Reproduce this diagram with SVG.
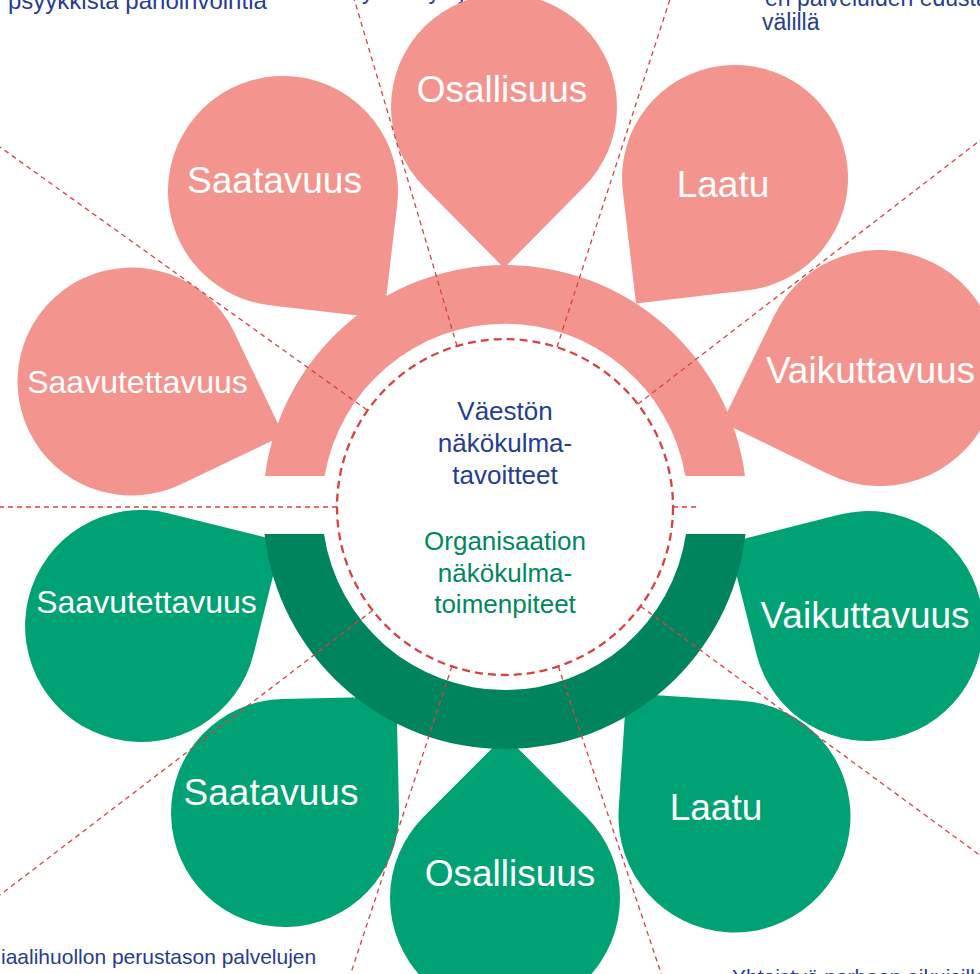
<svg xmlns="http://www.w3.org/2000/svg" width="980" height="974" viewBox="0 0 980 974">
<style>
.pink{fill:#F3958E}
.green{fill:#00A274}
.band-p{fill:#F3958E}
.band-g{fill:#00845E}
.lbl{font-family:"Liberation Sans",Arial,sans-serif;fill:#FFFFFF;text-anchor:middle}
.ctr{font-family:"Liberation Sans",Arial,sans-serif;font-size:26px;text-anchor:middle}
.note{font-family:"Liberation Sans",Arial,sans-serif;fill:#283C8F}
.ray{stroke:#D8413F;stroke-width:1.3;stroke-dasharray:5 4;fill:none}
</style>
<rect width="980" height="974" fill="#FFFFFF"/>

<g id="notes">
<text class="note" x="8" y="9" font-size="24">psyykkistä pahoinvointia</text>
<text class="note" x="362" y="-1" font-size="23">yhteistyö järjestöjen</text>
<text class="note" x="765" y="6" font-size="23">eri palveluiden edustajien</text>
<text class="note" x="762" y="30" font-size="23">välillä</text>
<text class="note" x="1" y="964" font-size="21">iaalihuollon perustason palvelujen</text>
<text class="note" x="732" y="984" font-size="21">Yhteistyö perheen aikuisille</text>
</g>

<g id="pink-saavutettavuus">
<path class="pink" d="M283.5 435.3 L234.4 332.4 A114 114 0 1 0 180.6 484.4 Z"/>
<text class="lbl" x="137.5" y="393" font-size="32">Saavutettavuus</text>
</g>
<g id="pink-saatavuus">
<path class="pink" d="M383.8 318.6 L397.2 204.4 A115 115 0 1 0 269.6 305.2 Z"/>
<text class="lbl" x="274.5" y="193" font-size="37">Saatavuus</text>
</g>
<g id="pink-osallisuus">
<path class="pink" d="M504 268 L583.9 186.9 A113 113 0 1 0 424.1 186.9 Z"/>
<text class="lbl" x="502" y="102" font-size="37">Osallisuus</text>
</g>
<g id="pink-laatu">
<path class="pink" d="M636 303.4 L748.2 290.2 A113 113 0 1 0 622.8 191.2 Z"/>
<text class="lbl" x="723" y="197" font-size="37">Laatu</text>
</g>
<g id="pink-vaikuttavuus">
<path class="pink" d="M722.2 422.3 L828.3 474.1 A118 118 0 1 0 773.9 316.3 Z"/>
<text class="lbl" x="870.5" y="383" font-size="37">Vaikuttavuus</text>
</g>

<g id="green-saavutettavuus">
<path class="green" d="M281.6 541.5 L169.1 513.4 A116 116 0 1 0 253.6 654.1 Z"/>
<text class="lbl" x="146.5" y="613" font-size="32">Saavutettavuus</text>
</g>
<g id="green-saatavuus">
<path class="green" d="M396.4 696.5 L282.4 699 A114 114 0 1 0 399 810.4 Z"/>
<text class="lbl" x="271" y="805" font-size="37">Saatavuus</text>
</g>
<g id="green-osallisuus">
<path class="green" d="M505 735.4 L423.7 816.7 A115 115 0 1 0 586.3 816.7 Z"/>
<text class="lbl" x="510" y="886" font-size="37">Osallisuus</text>
</g>
<g id="green-laatu">
<path class="green" d="M626.3 693.3 L618.7 809 A116 116 0 1 0 742 700.7 Z"/>
<text class="lbl" x="716" y="820" font-size="37">Laatu</text>
</g>
<g id="green-vaikuttavuus">
<path class="green" d="M728.3 542.7 L756.5 654.2 A115 115 0 1 0 839.8 514.5 Z"/>
<text class="lbl" x="865" y="628" font-size="37">Vaikuttavuus</text>
</g>

<g id="band-vaesto">
<path class="band-p" d="M265 476 A242 242 0 0 1 745 476 L685.4 476 A183 183 0 0 0 324.6 476 Z"/>
</g>
<g id="band-organisaatio">
<path class="band-g" d="M264.5 534 A242 242 0 0 0 745.5 534 L686 534 A183 183 0 0 1 324 534 Z"/>
</g>

<g id="center">
<circle cx="505" cy="507" r="168" fill="#FFFFFF" stroke="#D8413F" stroke-width="2.3" stroke-dasharray="8 5"/>
<text class="ctr" fill="#263C92" x="505" y="420">Väestön</text>
<text class="ctr" fill="#263C92" x="505" y="452">näkökulma-</text>
<text class="ctr" fill="#263C92" x="505" y="484">tavoitteet</text>
<text class="ctr" fill="#00875E" x="505" y="550">Organisaation</text>
<text class="ctr" fill="#00875E" x="505" y="582">näkökulma-</text>
<text class="ctr" fill="#00875E" x="505" y="613">toimenpiteet</text>
</g>

<g id="connectors">
<line class="ray" x1="337" y1="507" x2="0" y2="507"/>
<line class="ray" x1="367" y1="410" x2="0" y2="147"/>
<line class="ray" x1="457" y1="346" x2="350" y2="-15"/>
<line class="ray" x1="557" y1="347" x2="672" y2="-7"/>
<line class="ray" x1="638" y1="404" x2="1000" y2="125"/>
<line class="ray" x1="673" y1="507" x2="700" y2="507"/>
<line class="ray" x1="640.6" y1="606.3" x2="1000" y2="870"/>
<line class="ray" x1="558.3" y1="666.3" x2="664" y2="982"/>
<line class="ray" x1="451.9" y1="666.4" x2="348" y2="982"/>
<line class="ray" x1="372.6" y1="610.4" x2="0" y2="895"/>
</g>
</svg>
